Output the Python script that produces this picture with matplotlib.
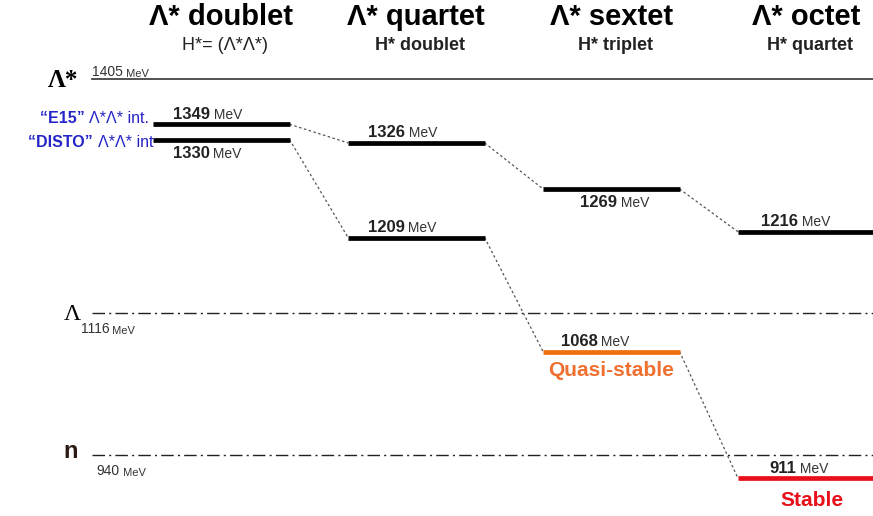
import matplotlib
matplotlib.use("Agg")
import matplotlib.pyplot as plt

plt.rcParams["font.family"] = ["Liberation Sans", "DejaVu Sans"]

# columns (multiplets)
COLUMNS = ["Λ* doublet", "Λ* quartet", "Λ* sextet", "Λ* octet"]
SUBTITLES = ["H*= (Λ*Λ*)", "H* doublet", "H* triplet", "H* quartet"]

# levels: column index, mass in MeV, label side
LEVEL_COL = [0, 0, 1, 1, 2, 2, 3, 3]
LEVEL_MEV = [1349, 1330, 1326, 1209, 1269, 1068, 1216, 911]
LEVEL_SIDE = ["above", "below", "above", "above", "below", "above", "above", "above"]
LEVEL_COLOR = ["black"] * 5 + ["#f07010", "black", "#e8101a"]

# dotted links between levels (index pairs)
LINKS = [(0, 2), (1, 3), (2, 4), (3, 5), (4, 6), (5, 7)]

# thresholds
THR_NAME = ["Λ*", "Λ", "n"]
THR_MEV = [1405, 1116, 940]

BAR_W = 0.7
# label x offset inside each bar (layout only)
LABEL_DX = [0.1, 0.1, 0.1, 0.1, 0.19, 0.09, 0.12, 0.16]

fig = plt.figure(figsize=(8.73, 5.16), dpi=100)
ax = fig.add_axes([0, 0, 1, 1])
ax.set_xlim(-0.785, 3.692)
ax.set_ylim(864.6, 1502.7)
ax.axis("off")


def value_label(x, y, num, va, color="#222222"):
    t = ax.text(x, y, num, fontsize=12, fontweight="bold", color=color, va=va)
    ax.annotate(" MeV", xy=(1, 0), xycoords=t, fontsize=10, color="#333333",
                va="bottom", ha="left")
    return t


# thresholds
ax.plot([-0.313, 3.8], [THR_MEV[0]] * 2, color="#444444", lw=1.3)
for m in THR_MEV[1:]:
    ax.plot([-0.313, 3.8], [m, m], color="#222222", lw=1.0,
            linestyle=(0, (9, 3, 1.5, 3)))

# threshold labels
ax.text(-0.385, THR_MEV[0] - 2, THR_NAME[0], fontsize=18, ha="right",
        va="center", family="Liberation Serif", fontweight="bold")
t = ax.text(-0.313, THR_MEV[0] + 4, "1405", fontsize=10, va="baseline", color="#333333")
ax.annotate(" MeV", xy=(1, 0), xycoords=t, fontsize=8, va="bottom", color="#333333")

ax.text(-0.37, THR_MEV[1] - 9, THR_NAME[1], fontsize=17, ha="right",
        va="baseline", family="Liberation Serif")
t = ax.text(-0.372, THR_MEV[1] - 12, "1116", fontsize=10, va="top", color="#333333")
ax.annotate(" MeV", xy=(1, 0), xycoords=t, fontsize=8, va="bottom", color="#333333")

ax.text(-0.425, THR_MEV[2] + 4, THR_NAME[2], fontsize=17, fontweight="bold",
        ha="center", va="center", color="#2a1a10")
t = ax.text(-0.29, THR_MEV[2] - 11, "940", fontsize=10, va="top", color="#333333")
ax.annotate(" MeV", xy=(1, 0), xycoords=t, fontsize=8, va="bottom", color="#333333")

# headers
for i, (name, sub) in enumerate(zip(COLUMNS, SUBTITLES)):
    ax.text(i + 0.35, 1482, name, fontsize=21, fontweight="bold", ha="center",
            va="center")
    ax.text(i + 0.37, 1447, sub, fontsize=13, ha="center", va="center",
            color="#222222", fontweight="normal" if i == 0 else "bold")

# links
for a, b in LINKS:
    xa = LEVEL_COL[a] + BAR_W
    xb = LEVEL_COL[b]
    ax.plot([xa, xb], [LEVEL_MEV[a], LEVEL_MEV[b]], color="#555555", lw=0.9,
            linestyle=(0, (2, 2)))

# levels
for i, (c, m) in enumerate(zip(LEVEL_COL, LEVEL_MEV)):
    ax.plot([c, c + BAR_W], [m, m], color=LEVEL_COLOR[i], lw=3.4,
            solid_capstyle="butt")
    if LEVEL_SIDE[i] == "above":
        value_label(c + LABEL_DX[i], m + 7, str(m), "baseline")
    else:
        value_label(c + LABEL_DX[i], m - 8, str(m), "top")

# stability tags
ax.text(LEVEL_COL[5] + BAR_W / 2, LEVEL_MEV[5] - 12, "Quasi-stable", fontsize=15,
        fontweight="bold", color="#f07030", ha="center", va="top")
ax.text(LEVEL_COL[7] + BAR_W / 2 + 0.03, LEVEL_MEV[7] - 15, "Stable", fontsize=15,
        fontweight="bold", color="#e8101a", ha="center", va="top")

# experiment labels
blue = "#2424c8"
for lab, m, x in [("Λ*Λ* int.", 1356, -0.02), ("Λ*Λ* int", 1327, 0.0)]:
    t = ax.text(x, m, lab, fontsize=11.5, color=blue, ha="right", va="center")
    ax.annotate("“E15” " if m > 1340 else "“DISTO” ", xy=(0, 0.5), xycoords=t,
                fontsize=11.5, fontweight="bold", color=blue, ha="right", va="center")

fig.savefig("out.png", dpi=100)
